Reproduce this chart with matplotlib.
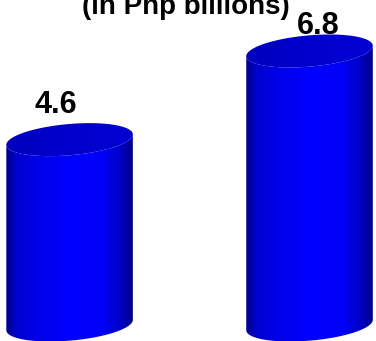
import numpy as np
import matplotlib
matplotlib.use('Agg')
import matplotlib.pyplot as plt
from matplotlib.patches import Polygon
from matplotlib.transforms import IdentityTransform

# chart data
categories = ['A', 'B']
values = [4.6, 6.8]
value_labels = ['4.6', '6.8']
subtitle = '(in Php billions)'

plt.rcParams['font.family'] = ['Liberation Sans', 'DejaVu Sans']

fig = plt.figure(figsize=(3.76, 3.41), dpi=100)
ax = fig.add_axes([0, 0, 1, 1])
ax.set_xlim(-0.29, 1.277)
ax.set_ylim(-0.397, 8.065)
ax.axis('off')

bar_w = 0.529
rx_px = 63.5      # half width of cylinder in pixels
ry_px = 15.6      # half height of the ellipse caps
tilt = np.radians(5)

# label placement relative to the top of each cylinder (data units)
label_dx = [-0.058, 0.0375]
label_dy = [0.66, 0.42]


def ellipse_arc(cx, cy, t):
    x = cx + rx_px * np.cos(t) * np.cos(tilt) - ry_px * np.sin(t) * np.sin(tilt)
    y = cy + rx_px * np.cos(t) * np.sin(tilt) + ry_px * np.sin(t) * np.cos(tilt)
    return np.column_stack([x, y])


t0 = np.arctan(-ry_px * np.tan(tilt) / rx_px)
lower = np.linspace(t0 + np.pi, t0 + 2 * np.pi, 80)
full = np.linspace(0, 2 * np.pi, 160)

# horizontal shading profile of the body
u = np.linspace(0, 1, 200)
prof_u = [0.0, 0.08, 0.25, 0.5, 0.75, 0.9, 1.0]
prof_b = [140, 205, 235, 255, 250, 200, 135]
grad = np.zeros((1, len(u), 3))
grad[0, :, 2] = np.interp(u, prof_u, prof_b) / 255.0

top_u = [0.0, 0.5, 1.0]
top_b = [190, 205, 212]
tgrad = np.zeros((1, len(u), 3))
tgrad[0, :, 2] = np.interp(u, top_u, top_b) / 255.0

for i, v in enumerate(values):
    cx, cy_bot = ax.transData.transform((i, 0))
    _, cy_top = ax.transData.transform((i, v))

    bot = ellipse_arc(cx, cy_bot, lower)
    top = ellipse_arc(cx, cy_top, lower)[::-1]
    body = Polygon(np.vstack([bot, top]), closed=True, transform=IdentityTransform(),
                   facecolor='none', edgecolor='none')
    ax.add_patch(body)
    im = ax.imshow(grad, extent=(i - bar_w / 2, i + bar_w / 2, -0.4, v + 0.5),
                   aspect='auto', interpolation='bilinear', zorder=2)
    im.set_clip_path(body)

    cap = Polygon(ellipse_arc(cx, cy_top, full), closed=True, transform=IdentityTransform(),
                  facecolor='none', edgecolor='none')
    ax.add_patch(cap)
    im2 = ax.imshow(tgrad, extent=(i - bar_w / 2, i + bar_w / 2, v - 0.5, v + 0.5),
                    aspect='auto', interpolation='bilinear', zorder=3)
    im2.set_clip_path(cap)

    ax.text(i + label_dx[i], v + label_dy[i], value_labels[i], ha='center', va='baseline',
            fontsize=22, fontweight='bold', color='black')

ax.set_xlim(-0.29, 1.277)
ax.set_ylim(-0.397, 8.065)

fig.text(186 / 376, 1 - 14 / 341, subtitle, ha='center', va='baseline',
         fontsize=20, fontweight='bold', color='black')

fig.savefig('out.png', dpi=100)
